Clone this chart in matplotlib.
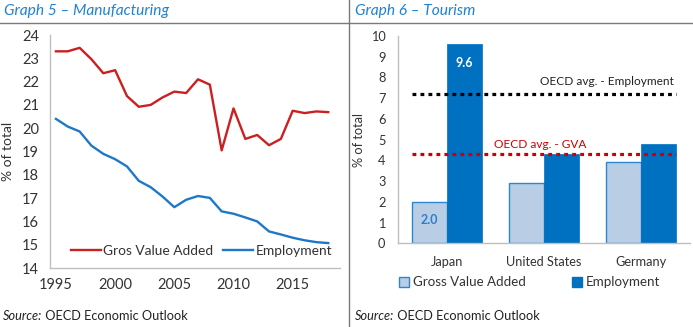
import matplotlib.pyplot as plt
from matplotlib.lines import Line2D
from matplotlib.patches import Patch
import numpy as np

plt.rcParams['font.family'] = ['Lato', 'DejaVu Sans']
plt.rcParams['font.size'] = 9

# Graph 5 - manufacturing share (% of total)
years = list(range(1995, 2019))
gva_manuf = [23.3, 23.3, 23.45, 22.96, 22.36, 22.49, 21.38, 20.92, 21.0, 21.32,
             21.57, 21.51, 22.1, 21.87, 19.05, 20.85, 19.54, 19.71, 19.27, 19.54,
             20.75, 20.65, 20.72, 20.69]
emp_manuf = [20.4, 20.07, 19.86, 19.25, 18.9, 18.67, 18.36, 17.74, 17.47, 17.07,
             16.61, 16.93, 17.09, 17.01, 16.43, 16.33, 16.17, 16.0, 15.57, 15.44,
             15.3, 15.19, 15.11, 15.07]

# Graph 6 - tourism share (% of total)
countries = ['Japan', 'United States', 'Germany']
gva_tour = [2.0, 2.9, 3.9]
emp_tour = [9.6, 4.3, 4.8]
oecd_emp = 7.2
oecd_gva = 4.3

RED = '#cc1f1f'
BLUE = '#1e78c8'
TITLE_BLUE = '#2181d2'
BAR_DARK = '#0070c0'
BAR_LIGHT = '#b9cde5'
GRID_GREY = '#bfbfbf'
TXT = '#333333'

fig = plt.figure(figsize=(6.93, 3.27), dpi=100)

# panel frame: header rule and middle divider
fig.add_artist(Line2D([0, 1], [0.9287, 0.9287], transform=fig.transFigure,
                      color='#7a7a7a', lw=1.0))
fig.add_artist(Line2D([0.504, 0.504], [0, 1], transform=fig.transFigure,
                      color='#7a7a7a', lw=1.0))

fig.text(0.006, 0.966, 'Graph 5 \u2013 Manufacturing', color=TITLE_BLUE,
         style='italic', fontsize=11.2, va='center', ha='left')
fig.text(0.512, 0.966, 'Graph 6 \u2013 Tourism', color=TITLE_BLUE,
         style='italic', fontsize=11.2, va='center', ha='left')


def source(x):
    # italic "Source:" followed by the plain publication name
    t = fig.text(x, 0.034, 'Source:', style='italic', fontsize=9.2,
                 color='#222222', va='center', ha='left')
    plt.annotate(' OECD Economic Outlook', xy=(1, 0.5), xycoords=t,
                 va='center', ha='left', fontsize=9.2, color='#222222')


def style_axes(ax, size):
    for s in ['top', 'right']:
        ax.spines[s].set_visible(False)
    for s in ['left', 'bottom']:
        ax.spines[s].set_color(GRID_GREY)
        ax.spines[s].set_linewidth(1.0)
    ax.tick_params(length=0, colors=TXT, labelsize=size)


# ---- left: manufacturing lines
ax1 = fig.add_axes([0.0722, 0.1804, 0.4185, 0.7125])
style_axes(ax1, 10.5)
ax1.plot(years, gva_manuf, color=RED, lw=1.7, label='Gros Value Added')
ax1.plot(years, emp_manuf, color=BLUE, lw=1.7, label='Employment')
ax1.set_ylim(14, 24)
ax1.set_yticks(range(14, 25))
ax1.set_xlim(1994.5, 2019.0)
ax1.set_xticks(range(1995, 2020, 5))
ax1.tick_params(axis='y', pad=8)
ax1.tick_params(axis='x', pad=7)
ax1.set_ylabel('% of total', color=TXT, fontsize=10)
ax1.yaxis.set_label_coords(-0.125, 0.5)
ax1.legend(loc='lower left', bbox_to_anchor=(0.03, -0.005), ncol=2,
           frameon=False, handlelength=2.2, handletextpad=0.15,
           columnspacing=0.7, fontsize=9.9, labelcolor=TXT)

# ---- right: tourism bars
ax2 = fig.add_axes([0.5743, 0.256, 0.4214, 0.634])
style_axes(ax2, 9.2)
x = np.arange(len(countries))
w = 0.36
ax2.bar(x - w / 2, gva_tour, w, color=BAR_LIGHT, edgecolor='#2a87d4',
        linewidth=1.0, label='Gross Value Added')
ax2.bar(x + w / 2, emp_tour, w, color=BAR_DARK, edgecolor=BAR_DARK,
        linewidth=0.5, label='Employment')
ax2.set_xlim(-0.5, 2.5)
ax2.set_ylim(0, 10)
ax2.set_yticks(range(0, 11))
ax2.set_xticks(x)
ax2.set_xticklabels(countries)
ax2.tick_params(axis='y', pad=9)
ax2.tick_params(axis='x', pad=9)
ax2.set_ylabel('% of total', color=TXT, fontsize=9.2)
ax2.yaxis.set_label_coords(-0.113, 0.5)

x0, x1 = x[0] - w, x[-1] + w
ax2.hlines(oecd_emp, x0, x1, colors='black', lw=2.3, linestyles=(0, (1.2, 1.3)))
ax2.hlines(oecd_gva, x0, x1, colors='#cc0000', lw=2.3, linestyles=(0, (1.2, 1.3)))
ax2.annotate('OECD avg. - Employment', xy=(x1, oecd_emp), xytext=(-2, 5),
             textcoords='offset points', ha='right', va='bottom',
             fontsize=8.6, color='#222222')
ax2.annotate('OECD avg. - GVA', xy=(0.96, oecd_gva), xytext=(0, 3),
             textcoords='offset points', ha='center', va='bottom',
             fontsize=8.6, color='#cc0000')

ax2.annotate(f'{emp_tour[0]:.1f}', xy=(x[0] + w / 2, emp_tour[0]), xytext=(0, -9),
             textcoords='offset points', ha='center', va='top',
             fontsize=9, fontweight='bold', color='white')
ax2.annotate(f'{gva_tour[0]:.1f}', xy=(x[0] - w / 2, gva_tour[0]), xytext=(0, -9),
             textcoords='offset points', ha='center', va='top',
             fontsize=9, fontweight='bold', color='#2a7fcf')

handles = [Patch(facecolor=BAR_LIGHT, edgecolor='#2a87d4', lw=1.0),
           Patch(facecolor=BAR_DARK, edgecolor=BAR_DARK)]
ax2.legend(handles, ['Gross Value Added', 'Employment'], loc='upper left',
           bbox_to_anchor=(0.005, -0.16), ncol=2, frameon=False,
           handlelength=0.75, handleheight=0.75, handletextpad=0.3,
           columnspacing=3.4, fontsize=9.6, labelcolor=TXT,
           borderaxespad=0, borderpad=0)

source(0.004)
source(0.512)

fig.savefig('out.png', dpi=100, facecolor='white')
